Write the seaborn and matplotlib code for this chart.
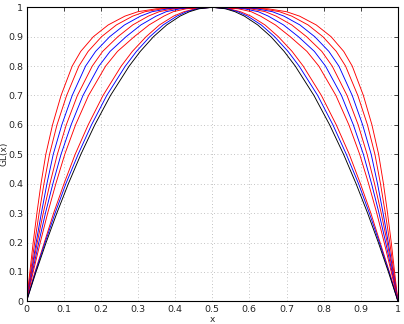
import numpy as np
import pandas as pd
import seaborn as sns
import matplotlib
matplotlib.use('Agg')
import matplotlib.pyplot as plt
from matplotlib.ticker import FormatStrFormatter

# GL(x) levels and the x where each curve reaches them (left half)
levels = [0, 0.1, 0.2, 0.3, 0.4, 0.5, 0.6, 0.7, 0.8, 0.85, 0.9, 0.94, 0.97, 0.985, 0.995, 1.0]
c1 = [0, 0.009, 0.018, 0.028, 0.039, 0.052, 0.070, 0.093, 0.123, 0.146, 0.180, 0.220, 0.265, 0.300, 0.350, 0.5]
c2 = [0, 0.011, 0.022, 0.034, 0.047, 0.062, 0.082, 0.108, 0.141, 0.166, 0.202, 0.242, 0.286, 0.319, 0.366, 0.5]
c3 = [0, 0.013, 0.026, 0.040, 0.055, 0.072, 0.095, 0.123, 0.159, 0.186, 0.224, 0.264, 0.307, 0.338, 0.382, 0.5]
c4 = [0, 0.014, 0.029, 0.045, 0.063, 0.083, 0.107, 0.137, 0.177, 0.205, 0.246, 0.286, 0.328, 0.357, 0.398, 0.5]
c5 = [0, 0.016, 0.033, 0.051, 0.071, 0.093, 0.120, 0.152, 0.195, 0.225, 0.268, 0.308, 0.349, 0.376, 0.414, 0.5]
c6 = [0, 0.018, 0.037, 0.057, 0.079, 0.103, 0.132, 0.167, 0.213, 0.245, 0.290, 0.330, 0.370, 0.395, 0.430, 0.5]
c7 = [0, 0.023, 0.048, 0.073, 0.101, 0.131, 0.166, 0.206, 0.255, 0.285, 0.322, 0.358, 0.396, 0.424, 0.455, 0.5]
c8 = [0, 0.024, 0.050, 0.077, 0.106, 0.139, 0.175, 0.216, 0.266, 0.296, 0.332, 0.368, 0.405, 0.431, 0.460, 0.5]
c9 = [0, 0.0257, 0.0528, 0.0817, 0.1127, 0.1464, 0.1838, 0.2261, 0.2764, 0.3064, 0.3419, 0.3775, 0.4134, 0.4388, 0.4646, 0.5]

curves = [c1, c2, c3, c4, c5, c6, c7, c8, c9]
colors = ['r', 'r', 'b', 'r', 'b', 'r', 'r', 'b', 'k']
ticks = [0, 0.1, 0.2, 0.3, 0.4, 0.5, 0.6, 0.7, 0.8, 0.9, 1]

sns.set_style('white')
plt.rcParams['font.family'] = ['DejaVu Sans']

fig = plt.figure(figsize=(4.04, 3.24), dpi=100)
ax = fig.add_axes([0.0656, 0.070, 0.9194, 0.9075])

for xs, col in zip(curves, colors):
    # the curves are symmetric about x = 0.5
    x_full = list(xs) + [1 - v for v in xs[-2::-1]]
    y_full = list(levels) + list(levels[-2::-1])
    df = pd.DataFrame({'x': x_full, 'y': y_full})
    sns.lineplot(data=df, x='x', y='y', ax=ax, color=col, lw=0.65,
                 sort=False, estimator=None)

ax.set_xlim(0, 1)
ax.set_ylim(0, 1)
ax.set_xticks(ticks)
ax.set_yticks(ticks)
ax.xaxis.set_major_formatter(FormatStrFormatter('%g'))
ax.yaxis.set_major_formatter(FormatStrFormatter('%g'))
ax.tick_params(direction='in', length=3, width=0.6, labelsize=6.8,
               top=True, right=True, pad=2.5)
ax.grid(True, linestyle=(0, (1, 3)), color='#b0b0b0', lw=0.6)
for s in ax.spines.values():
    s.set_color('black')
    s.set_linewidth(0.8)

ax.set_xlabel('x', fontsize=6.5, labelpad=1)
ax.set_ylabel('GL(x)', fontsize=6.5)
ax.yaxis.set_label_coords(-0.049, 0.5)

fig.savefig('out.png', dpi=100)
